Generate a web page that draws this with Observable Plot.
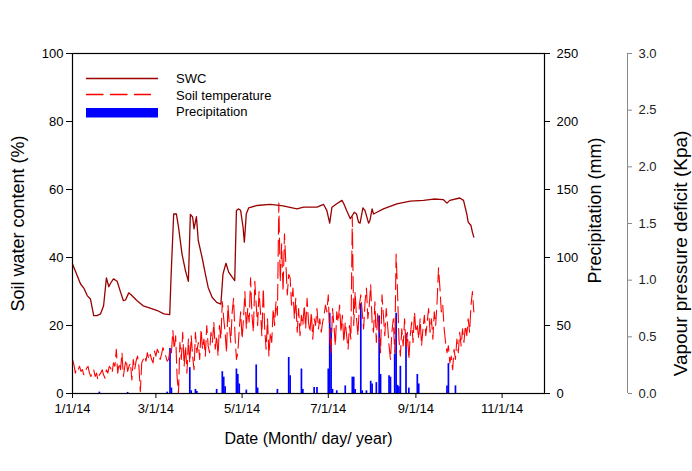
<!DOCTYPE html>
<html>
<head>
<meta charset="utf-8">
<script src="https://cdn.jsdelivr.net/npm/d3@7"></script>
<script src="https://cdn.jsdelivr.net/npm/@observablehq/plot@0.6"></script>
<style>
  html, body { margin: 0; padding: 0; background: #fff; }
  #wrap { position: relative; width: 692px; height: 471px; }
  #legend { position: absolute; left: 0; top: 0; pointer-events: none; }
  #legend text { font-family: "Liberation Sans", Arial, sans-serif; font-size: 13px; fill: #000; }
</style>
</head>
<body>
<div id="wrap"></div>
<script>
// ---------- data (days counted from 1 Jan 2014) ----------
const swcDay = [0,2,5.7,8,10.4,12.7,15,17.4,19.8,22,24,25.7,27,29,31.6,34,36,37.5,39.8,42,45.7,50,55,60,64.6,68.8,69.8,71.6,73.5,75,77.5,80,82,83.4,85,86,87.7,89,91.7,94,96,98.8,102,105,106.5,108.6,110.5,113,114.8,116,117.6,119,120.7,121.6,123,124.7,130.6,140,149,158.8,163.6,173,177.7,180,182,183.6,187,190.7,192,194,196.6,199.4,201,202.4,203.5,205.5,207,209.5,210.5,212,213,215.4,220,229.5,239,248.4,255.5,262.5,265,267,274,276.7,279,280,282,283,284];
const swcVal = [38.1,36,32.2,31,28.8,27.8,22.9,22.9,23.4,25.8,34,31.4,32.5,33.7,33,29.8,27.3,27.5,29.6,28.8,27.3,25.8,25.1,24.4,23.4,23.2,35,52.8,52.8,49,41,36,33,52.7,51.9,48.4,52,45,40,35.2,31.2,28.3,26.8,26.3,35.2,38.3,35.7,34.2,33.2,53.8,54.3,53.8,48.9,44.5,52.9,54.6,55.3,55.6,55.2,54.3,54.8,54.8,55.6,53.8,50.1,54.8,55.8,56.8,55.8,53.8,51.4,53.3,52.8,50.4,50.1,54.6,53.8,50.1,50.9,54.3,52.8,53.3,54.3,55.8,56.6,56.8,57.2,57,56,56.8,57.5,56.8,52.8,50.4,49.4,47.4,46];

// soil temperature, one value per day from day 0
const tempVal = [
 10,8.5,6,7.5,7,8,6.5,7,5.5,6,
 7.5,8,6,5,6.5,7,5,6,4,5.5,
 6,7,5.5,4.5,7,6,8,7.5,6,9,
 8,13,6,9,7,12,5,8,10,6.5,
 8,9,4,10,7,9.5,11,8,0.5,9,
 10,11,9.5,12,10,11.5,10,9,12.5,11,
 13,12,10,11.5,13.5,12,11,9.5,10,13,
 12,18.5,13,17,5,0,15,10,18,8,
 14,6,16,9,17,11,7,18,12,15,
 10,19,13,16,11,20,14,12,18,15,
 21,13,17,11,20,16,27,22,18,12,
 26,20,15,24,28,17,10,12,19,24,
 16,22,30,19,25,21,34,23,18,33,
 26,20,30,24,17,31,19,13,22,11,
 18,15,25,20,27,23,56,33,44,30,
 47,38,29,35,34,26,31,22,28,18,
 25,17,23,20,26,19,28,21,18,24,
 16,22,20,25,19,22,18,21,23,26,
 24,29,17,12,25,20,14,24,21,26,
 18,23,15,21,17,13,20,16,52,20,
 30,22,17,26,29,24,19,27,31,22,
 26,32,21,18,27,15,24,19,12,29,
 23,17,25,20,14,10,18,22,12,41,
 30,16,11,19,14,22,13,18,10,17,
 21,15,24,18,20,16,22,14,19,23,
 17,21,25,18,22,16,24,20,27,37,
 31,24,26,19,15,12,14,9,11,7,
 13,10,16,12,18,14,19,15,20,17,
 22,18,26,30,24
];

const precipDay = [19,39,67,69,70,83,84,87,88,102,106,107,108,116,117,118,123,130,131,145,153,154,162,163,171,173,181,182,183,184,187,193,198,199,200,204,205,208,211,212,215,217,218,224,225,228,229,230,231,232,236,238,244,245,265,266,271];
const precipVal = [1,0.8,1,33,4,19,2,3,1.5,3,16,12,5,18,14,7,2.5,21,4,3,26.5,13,18,3,4.4,4.4,18,59,48,3,2,5.6,12,12,3,66,2,2,9,7,8,57,14,13,12,29,59,6,5,20,44,4,14,7,5.6,22,5.6];

const leftTicks = [0,20,40,60,80,100];
const precipTicks = [0,50,100,150,200,250];
const vpdTicks = [0,0.5,1,1.5,2,2.5,3];
const xTickMonths = [0,2,4,6,8,10];
const xTickLabels = ["1/1/14","3/1/14","5/1/14","7/1/14","9/1/14","11/1/14"];

// ---------- build ----------
const DAY = 864e5;
const t0 = Date.UTC(2014,0,1);
const toDate = d => new Date(t0 + d*DAY);
const swc = swcDay.map((d,i) => ({date: toDate(d), v: swcVal[i]}));
const temp = tempVal.map((v,i) => ({date: toDate(i), v}));
const precip = precipDay.map((d,i) => ({date: toDate(d), p: precipVal[i]}));
const xStart = new Date(t0), xEnd = new Date(Date.UTC(2014,11,1));
const xTicks = xTickMonths.map(m => new Date(Date.UTC(2014,m,1)));
const pScale = 100/250, vScale = 100/3;

const font = '"Liberation Sans", Arial, sans-serif';
const chart = Plot.plot({
  width: 692, height: 471,
  marginLeft: 72, marginRight: 148, marginTop: 53, marginBottom: 78,
  style: {fontFamily: font, fontSize: "13px", color: "#000", background: "#fff", overflow: "visible"},
  x: {type: "utc", domain: [xStart, xEnd]},
  y: {domain: [0, 100]},
  marks: [
    Plot.ruleX(precip, {x: "date", y1: 0, y2: d => d.p*pScale, stroke: "#0000ff", strokeWidth: 1.7}),
    Plot.line(temp, {x: "date", y: "v", stroke: "#ff0000", strokeWidth: 1.1, strokeDasharray: "16,6"}),
    Plot.line(swc, {x: "date", y: "v", stroke: "#990000", strokeWidth: 1.3}),
    Plot.frame({stroke: "#000", strokeWidth: 1.2}),
    Plot.axisX({ticks: xTicks, tickFormat: d => xTickLabels[xTicks.findIndex(t => +t === +d)], tickSize: 5, tickPadding: 5, label: null}),
    Plot.axisY({anchor: "left", ticks: leftTicks, tickSize: 6, tickPadding: 3, label: null}),
    Plot.axisY({anchor: "right", ticks: precipTicks.map(p => p*pScale), tickFormat: y => String(Math.round(y/pScale)), tickSize: 5, tickPadding: 7, label: null}),
    Plot.ruleX([xEnd], {y1: 0, y2: 100, dx: 83, stroke: "#888"}),
    Plot.axisY({anchor: "right", ticks: vpdTicks.map(v => v*vScale), tickFormat: y => (y/vScale).toFixed(1), tickSize: 4, tickPadding: 7, dx: 83, stroke: "#888", fill: "#222", label: null}),
    Plot.text(["Date (Month/ day/ year)"], {frameAnchor: "bottom", dy: 45, fontSize: 16, lineAnchor: "middle", textAnchor: "middle"}),
    Plot.text(["Soil water content (%)"], {frameAnchor: "left", dx: -54, rotate: -90, fontSize: 18, lineAnchor: "middle", textAnchor: "middle"}),
    Plot.text(["Precipitation (mm)"], {frameAnchor: "right", dx: 51, dy: -13, rotate: -90, fontSize: 18, lineAnchor: "middle", textAnchor: "middle"}),
    Plot.text(["Vapour pressure deficit (Kpa)"], {frameAnchor: "right", dx: 136, dy: 30, rotate: -90, fontSize: 19, lineAnchor: "middle", textAnchor: "middle"})
  ]
});
const wrap = document.getElementById("wrap");
wrap.appendChild(chart);

// legend overlay
const ns = "http://www.w3.org/2000/svg";
const lg = document.createElementNS(ns, "svg");
lg.setAttribute("id", "legend");
lg.setAttribute("width", 692); lg.setAttribute("height", 471);
lg.innerHTML = `
  <line x1="86" x2="158" y1="78.5" y2="78.5" stroke="#990000" stroke-width="1.3"/>
  <line x1="86" x2="151" y1="94.5" y2="94.5" stroke="#ff0000" stroke-width="1.3" stroke-dasharray="17.5,6.5"/>
  <rect x="86" y="108" width="72" height="9.5" fill="#0000ff"/>
  <text x="176" y="83">SWC</text>
  <text x="176" y="99.5">Soil temperature</text>
  <text x="176" y="116">Precipitation</text>`;
wrap.appendChild(lg);
</script>
</body>
</html>
